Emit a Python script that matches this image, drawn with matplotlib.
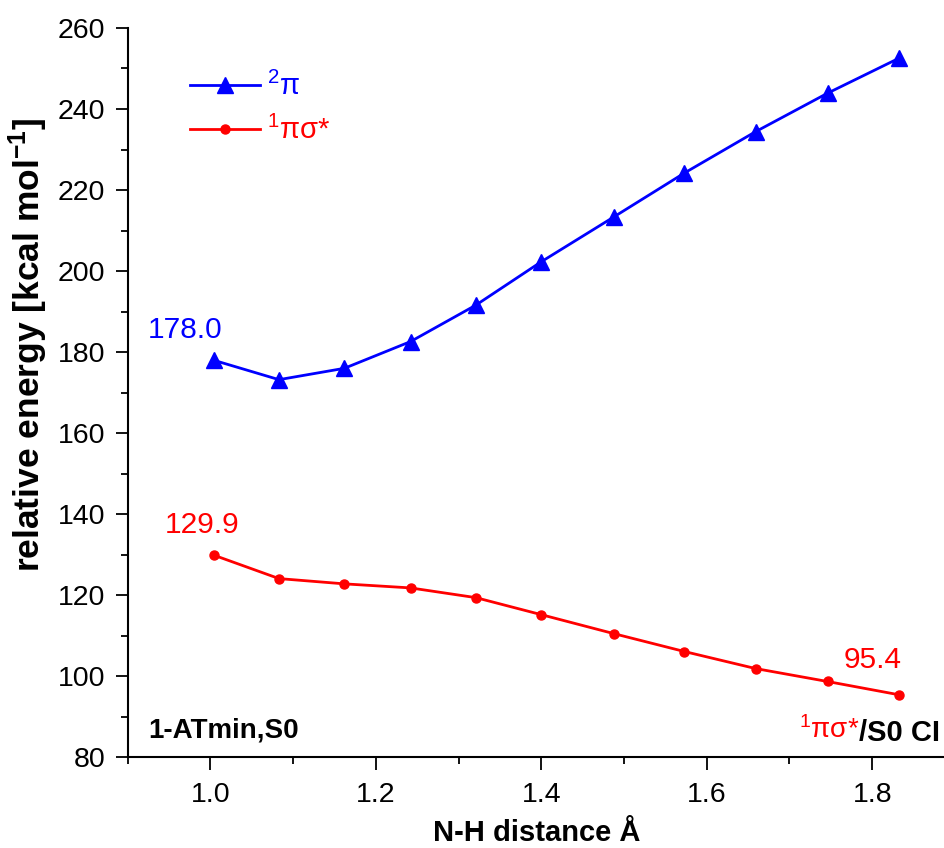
import matplotlib
matplotlib.use("Agg")
import matplotlib.pyplot as plt
from matplotlib.ticker import MultipleLocator, FormatStrFormatter

plt.rcParams['font.family'] = ['Liberation Sans', 'DejaVu Sans']
plt.rcParams['mathtext.fontset'] = 'custom'
plt.rcParams['mathtext.rm'] = 'Liberation Sans'
plt.rcParams['mathtext.it'] = 'Liberation Sans'
plt.rcParams['mathtext.bf'] = 'Liberation Sans:bold'
plt.rcParams['mathtext.default'] = 'regular'

# N-H distance (Angstrom)
dist = [1.004, 1.083, 1.162, 1.242, 1.321, 1.400, 1.488, 1.573, 1.659, 1.746, 1.833]
# relative energies (kcal/mol)
e_pi = [178.0, 173.2, 176.0, 182.6, 191.6, 202.3, 213.4, 224.2, 234.4, 243.9, 252.6]
e_pisig = [129.9, 124.1, 122.8, 121.8, 119.4, 115.2, 110.5, 106.1, 101.9, 98.7, 95.4]

fig = plt.figure(figsize=(9.45, 8.48), dpi=100)
ax = fig.add_axes([0.135, 0.107, 0.865, 0.86])

ax.plot(dist, e_pi, c='#0000ff', lw=2.0, marker='^', ms=12, label=r'$^{2}\pi$')
ax.plot(dist, e_pisig, c='#ff0000', lw=2.0, marker='o', ms=6.5, label=r'$^{1}\pi\sigma$*')

ax.set_xlim(0.9, 1.888)
ax.set_ylim(80, 260)
ax.xaxis.set_major_locator(MultipleLocator(0.2))
ax.xaxis.set_minor_locator(MultipleLocator(0.1))
ax.yaxis.set_major_locator(MultipleLocator(20))
ax.yaxis.set_minor_locator(MultipleLocator(10))
ax.xaxis.set_major_formatter(FormatStrFormatter('%.1f'))
ax.spines['top'].set_visible(False)
ax.spines['right'].set_visible(False)
ax.spines['left'].set_linewidth(1.5)
ax.spines['bottom'].set_linewidth(1.5)
ax.tick_params(which='major', direction='out', length=9, width=1.3, labelsize=20.5)
ax.tick_params(which='minor', direction='out', length=5, width=1.3)
ax.tick_params(axis='y', pad=7)
ax.tick_params(axis='x', pad=9)

ax.set_xlabel('N-H distance Å', fontsize=21, fontweight='bold', labelpad=8)
ax.set_ylabel(r'relative energy [kcal mol$^{\mathbf{-1}}$]', fontsize=25.5, fontweight='bold')
ax.yaxis.set_label_coords(-0.095, 0.565)

ax.text(0.97, 185.5, '178.0', color='#0000ff', fontsize=21.5, ha='center', va='center')
ax.text(0.99, 137.3, '129.9', color='#ff0000', fontsize=21.5, ha='center', va='center')
ax.text(1.80, 104.0, '95.4', color='#ff0000', fontsize=21.5, ha='center', va='center')
ax.text(0.925, 86.7, '1-ATmin,S0', fontsize=20, fontweight='bold', ha='left', va='center')
t = ax.text(1.882, 84.0, '/S0 CI', fontsize=21, fontweight='bold', ha='right', va='baseline')
ax.annotate(r'$^{1}\pi\sigma$*', xy=(0, 0), xycoords=t, xytext=(0, 2.0),
            textcoords='offset points', color='#ff0000', fontsize=20,
            ha='right', va='bottom')

ax.legend(loc='upper left', bbox_to_anchor=(0.076, 0.94), frameon=False, fontsize=21,
          borderaxespad=0, borderpad=0, handlelength=2.4, handletextpad=0.25,
          labelspacing=0.52, labelcolor='linecolor')

fig.savefig('out.png', dpi=100)
